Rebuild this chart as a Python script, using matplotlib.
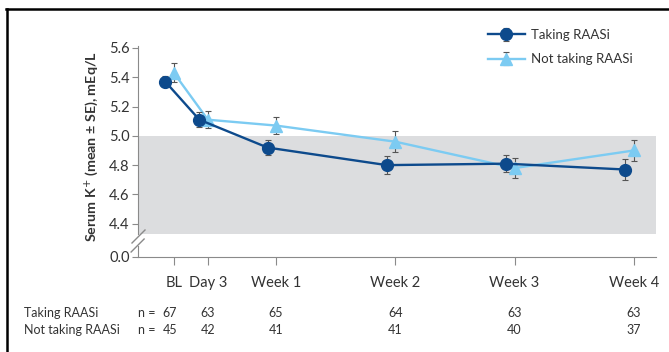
# serum potassium over time, split by RAAS inhibitor use

import numpy as np
import matplotlib.pyplot as plt
from matplotlib.lines import Line2D

plt.rcParams['font.family'] = ['Lato', 'DejaVu Sans']

# visit labels and their study day
visits = ["BL", "Day 3", "Week 1", "Week 2", "Week 3", "Week 4"]
visit_days = [1, 3, 7, 14, 21, 28]

# mean serum K+ and standard error (mEq/L)
k_taking = [5.37, 5.11, 4.92, 4.80, 4.81, 4.77]
se_taking = [0.04, 0.05, 0.05, 0.06, 0.06, 0.07]
k_not_taking = [5.43, 5.11, 5.07, 4.96, 4.78, 4.90]
se_not_taking = [0.065, 0.06, 0.06, 0.07, 0.07, 0.07]

# patients at each visit
n_taking = [67, 63, 65, 64, 63, 63]
n_not_taking = [45, 42, 41, 41, 40, 37]

normal_low, normal_high = 4.33, 5.0

DARK = "#0d4a8c"
LIGHT = "#7ccbf2"
AXIS = "#8a8a8a"
TEXT = "#333333"

W, H = 669, 352
fig = plt.figure(figsize=(W / 100, H / 100), dpi=100)


def box(x0, y0, x1, y1):
    # pixel box (top-left origin) -> figure fraction rect
    return [x0 / W, 1 - y1 / H, (x1 - x0) / W, (y1 - y0) / H]


ax = fig.add_axes(box(138, 46, 656, 234))
ax_low = fig.add_axes(box(138, 246, 656, 257), sharex=ax)

days = np.array(visit_days, dtype=float)
xlim = (-1.1, 29.3)

# shaded normal range
ax.axhspan(normal_low, normal_high, color="#dcdddf", lw=0, zorder=0)

ax.errorbar(days - 0.5, k_taking, yerr=se_taking, color=DARK, lw=1.7,
            marker="o", ms=8.5, ecolor="#555555", elinewidth=0.8, capsize=2,
            capthick=0.8, zorder=3, label="Taking RAASi")
ax.errorbar(days, k_not_taking, yerr=se_not_taking, color=LIGHT, lw=1.7,
            marker="^", ms=8, ecolor="#555555", elinewidth=0.8, capsize=2,
            capthick=0.8, zorder=2, label="Not taking RAASi")

ax.set_xlim(*xlim)
ax.set_ylim(normal_low, 5.613)
ax.set_yticks([4.4, 4.6, 4.8, 5.0, 5.2, 5.4, 5.6])
ax.yaxis.set_major_formatter(plt.FormatStrFormatter("%.1f"))
for s in ["top", "right", "bottom"]:
    ax.spines[s].set_visible(False)
ax.spines["left"].set_color(AXIS)
ax.tick_params(axis="x", which="both", bottom=False, labelbottom=False)
ax.tick_params(axis="y", direction="out", length=4, color=AXIS,
               labelsize=10.5, labelcolor=TEXT, pad=2)

# lower stub of the broken axis, holds the zero and the visit ticks
ax_low.set_ylim(0, 0.1)
ax_low.set_yticks([0.0])
ax_low.yaxis.set_major_formatter(plt.FormatStrFormatter("%.1f"))
ax_low.set_xticks(visit_days)
ax_low.set_xticklabels(visits)
for s in ["top", "right"]:
    ax_low.spines[s].set_visible(False)
for s in ["left", "bottom"]:
    ax_low.spines[s].set_color(AXIS)
ax_low.patch.set_visible(False)
ax_low.tick_params(axis="y", direction="out", length=4, color=AXIS,
                   labelsize=10.5, labelcolor=TEXT, pad=2)
ax_low.tick_params(axis="x", direction="out", length=6, color=AXIS,
                   labelsize=10.5, labelcolor=TEXT, pad=8)

# break marks on the y axis
for dy in (0, 9):
    fig.add_artist(Line2D([(132 - dy * 0.1) / W, (145 - dy * 0.1) / W],
                          [1 - (243 + dy) / H, 1 - (230 + dy) / H],
                          color=AXIS, lw=1.0))

fig.text(92 / W, 1 - 147 / H, "Serum K$^{+}$ (mean \u00b1 SE), mEq/L",
         rotation=90, ha="center", va="center", fontsize=10.3,
         fontweight="bold", color=TEXT)

ax.legend(loc="upper left", bbox_to_anchor=(476 / W, 1 - 17 / H),
          bbox_transform=fig.transFigure, frameon=False, fontsize=9.5,
          handlelength=2.8, labelspacing=0.95, handletextpad=0.5,
          labelcolor=TEXT)

# patient counts under the axis
row_y = [313, 330]
row_names = ["Taking RAASi", "Not taking RAASi"]
row_counts = [n_taking, n_not_taking]
tr = ax_low.get_xaxis_transform()
for name, counts, py in zip(row_names, row_counts, row_y):
    yf = 1 - py / H
    fig.text(24 / W, yf, name, ha="left", va="center", fontsize=9,
             color=TEXT)
    fig.text(138 / W, yf, "n =", ha="left", va="center", fontsize=9,
             color=TEXT)
    for d, c in zip(visit_days, counts):
        x_disp = tr.transform((d, 0))[0]
        xf = fig.transFigure.inverted().transform((x_disp, 0))[0]
        if d == visit_days[0]:
            xf -= 4 / W
        fig.text(xf, yf, str(c), ha="center", va="center", fontsize=9,
                 color=TEXT)

# frame lines along the top and left edge
fig.add_artist(Line2D([6 / W, 1], [1 - 9 / H, 1 - 9 / H], color="black",
                      lw=1.8))
fig.add_artist(Line2D([7 / W, 7 / W], [0, 1 - 9 / H], color="black", lw=1.8))

fig.savefig("out.png", dpi=100)
